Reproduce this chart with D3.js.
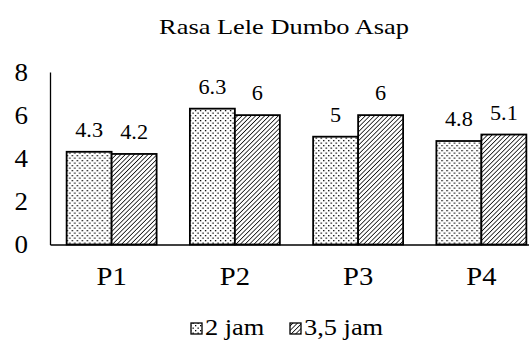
<!DOCTYPE html>
<html>
<head>
<meta charset="utf-8">
<script src="https://cdn.jsdelivr.net/npm/d3@7"></script>
<style>
  body { margin: 0; background: #fff; }
</style>
</head>
<body>
<div id="chart"></div>
<script>
// data
let categories = ["P1", "P2", "P3", "P4"];
let seriesNames = ["2 jam", "3,5 jam"];
let values2jam = [4.3, 6.3, 5, 4.8];
let values35jam = [4.2, 6, 6, 5.1];
let yTicks = [0, 2, 4, 6, 8];

let width = 529, height = 347;
let serif = "'Liberation Serif', 'Times New Roman', serif";

// the source picture is a little wider than tall, so text gets stretched sideways
function stretch(sel, sx) {
    sel.each(function() {
        let t = d3.select(this);
        let x = +t.attr("x") || 0;
        let y = +t.attr("y") || 0;
        t.attr("transform", `translate(${x},${y}) scale(${sx},1) translate(${-x},${-y})`);
    });
}

let svg = d3.select("#chart").append("svg")
    .attr("width", width)
    .attr("height", height)
    .attr("font-family", serif);

// patterns
let defs = svg.append("defs");
let dots = defs.append("pattern")
    .attr("id", "dots")
    .attr("patternUnits", "userSpaceOnUse")
    .attr("width", 5).attr("height", 5);
dots.append("rect").attr("width", 5).attr("height", 5).attr("fill", "#fff");
dots.append("rect").attr("x", 0).attr("y", 0).attr("width", 1.3).attr("height", 1.3).attr("fill", "#000");
dots.append("rect").attr("x", 2.5).attr("y", 2.5).attr("width", 1.3).attr("height", 1.3).attr("fill", "#000");

let hatch = defs.append("pattern")
    .attr("id", "hatch")
    .attr("patternUnits", "userSpaceOnUse")
    .attr("width", 3.2).attr("height", 3.2)
    .attr("patternTransform", "rotate(45)");
hatch.append("rect").attr("width", 3.2).attr("height", 3.2).attr("fill", "#fff");
hatch.append("line").attr("x1", 0).attr("y1", 0).attr("x2", 0).attr("y2", 3.2)
    .attr("stroke", "#000").attr("stroke-width", 1.5);

let fills = ["url(#dots)", "url(#hatch)"];

// scales
let xScale = d3.scaleBand()
    .domain(categories)
    .range([50, 543])
    .paddingInner(0.27)
    .paddingOuter(0.135);

let xSub = d3.scaleBand()
    .domain(seriesNames)
    .range([0, xScale.bandwidth()]);

let yScale = d3.scaleLinear()
    .domain([0, 8])
    .range([244.5, 72]);

// title
svg.append("text")
    .attr("x", 284)
    .attr("y", 34)
    .attr("text-anchor", "middle")
    .attr("font-size", 22)
    .text("Rasa Lele Dumbo Asap")
    .call(stretch, 1.2);

// y axis
let yAxis = d3.axisLeft(yScale).tickValues(yTicks).tickSize(0).tickPadding(22);
let gy = svg.append("g")
    .attr("transform", `translate(50,0)`)
    .call(yAxis)
    .attr("font-family", serif)
    .attr("font-size", 25);
gy.select(".domain").attr("stroke", "#000").attr("stroke-width", 1.3);
gy.selectAll("text").attr("fill", "#000").call(stretch, 1.08);

// bars
let rows = categories.map((c, i) => ({cat: c, vals: [values2jam[i], values35jam[i]]}));

let groups = svg.selectAll(".grp")
    .data(rows)
    .join("g")
    .attr("class", "grp")
    .attr("transform", d => `translate(${xScale(d.cat)},0)`);

groups.selectAll("rect")
    .data(d => d.vals.map((v, j) => ({name: seriesNames[j], v: v, j: j})))
    .join("rect")
    .attr("x", d => xSub(d.name))
    .attr("y", d => yScale(d.v))
    .attr("width", xSub.bandwidth())
    .attr("height", d => yScale(0) - yScale(d.v))
    .attr("fill", d => fills[d.j])
    .attr("stroke", "#000")
    .attr("stroke-width", 1.8);

groups.selectAll(".lbl")
    .data(d => d.vals.map((v, j) => ({name: seriesNames[j], v: v})))
    .join("text")
    .attr("class", "lbl")
    .attr("x", d => xSub(d.name) + xSub.bandwidth() / 2)
    .attr("y", d => yScale(d.v) - 15)
    .attr("text-anchor", "middle")
    .attr("font-size", 21)
    .text(d => d.v)
    .call(stretch, 1.06);

// x axis drawn after the bars so the baseline sits on top
let xAxis = d3.axisBottom(xScale).tickSize(0).tickPadding(22);
let gx = svg.append("g")
    .attr("transform", `translate(0,${yScale(0)})`)
    .call(xAxis)
    .attr("font-family", serif)
    .attr("font-size", 26);
gx.select(".domain").attr("stroke", "#000").attr("stroke-width", 1.3);
gx.selectAll("text").attr("fill", "#000").call(stretch, 1.1);

// legend
let legendIconX = [191, 290];
let legendTextX = [205, 304];
let legend = svg.append("g");
seriesNames.forEach((name, j) => {
    legend.append("rect")
        .attr("x", legendIconX[j]).attr("y", 323)
        .attr("width", 11).attr("height", 11)
        .attr("fill", fills[j])
        .attr("stroke", "#000")
        .attr("stroke-width", 1.3);
    legend.append("text")
        .attr("x", legendTextX[j])
        .attr("y", 335)
        .attr("font-size", 24)
        .text(name)
        .call(stretch, 1.1);
});
</script>
</body>
</html>
